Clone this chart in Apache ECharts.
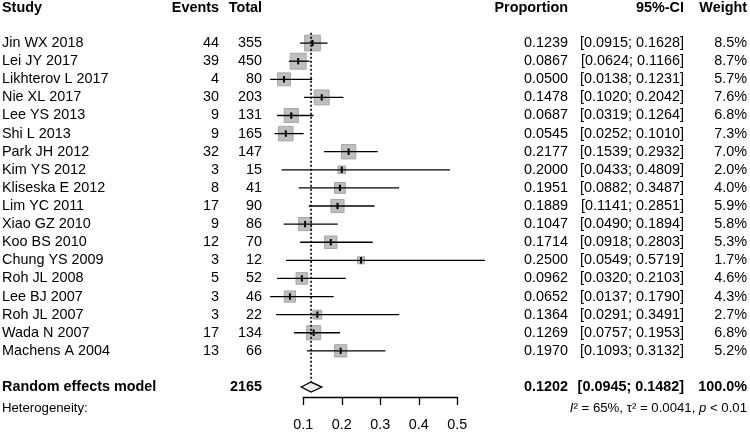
<!DOCTYPE html>
<html><head><meta charset="utf-8">
<script src="https://cdn.jsdelivr.net/npm/echarts@6/dist/echarts.min.js"></script>
<style>html,body{margin:0;padding:0;background:#fff}#c{width:750px;height:432px}</style>
</head><body><div id="c"></div>
<script>
// ---- data ----
const studies = ['Jin WX 2018','Lei JY 2017','Likhterov L 2017','Nie XL 2017','Lee YS 2013','Shi L 2013','Park JH 2012','Kim YS 2012','Kliseska E 2012','Lim YC 2011','Xiao GZ 2010','Koo BS 2010','Chung YS 2009','Roh JL 2008','Lee BJ 2007','Roh JL 2007','Wada N 2007','Machens A 2004'];
const events = [44,39,4,30,9,9,32,3,8,17,9,12,3,5,3,3,17,13];
const totals = [355,450,80,203,131,165,147,15,41,90,86,70,12,52,46,22,134,66];
const proportion = [0.1239,0.0867,0.0500,0.1478,0.0687,0.0545,0.2177,0.2000,0.1951,0.1889,0.1047,0.1714,0.2500,0.0962,0.0652,0.1364,0.1269,0.1970];
const ciLower = [0.0915,0.0624,0.0138,0.1020,0.0319,0.0252,0.1539,0.0433,0.0882,0.1141,0.0490,0.0918,0.0549,0.0320,0.0137,0.0291,0.0757,0.1093];
const ciUpper = [0.1628,0.1166,0.1231,0.2042,0.1264,0.1010,0.2932,0.4809,0.3487,0.2851,0.1894,0.2803,0.5719,0.2103,0.1790,0.3491,0.1953,0.3132];
const weights = [8.5,8.7,5.7,7.6,6.8,7.3,7.0,2.0,4.0,5.9,5.8,5.3,1.7,4.6,4.3,2.7,6.8,5.2];
const pooledLabel = 'Random effects model';
const pooledTotal = 2165;
const pooledEstimate = [0.1202, 0.0945, 0.1482]; // estimate, lower, upper
const pooledWeight = 100.0;
const heterogeneity = ['65%', '0.0041', '0.01']; // I^2, tau^2, p
const xTicks = [0.1, 0.2, 0.3, 0.4, 0.5];
const headers = ['Study','Events','Total','Proportion','95%-CI','Weight'];

// ---- layout ----
const FONT = "'Liberation Sans', Arial, sans-serif";
const FS = 14.4;
const colX = {study: 2, events: 219, total: 262, prop: 568, ci: 684, weight: 747};
const headerRow = -1.93, pooledRow = 19, hetRow = 20.2;

const chart = echarts.init(document.getElementById('c'), null, {renderer: 'canvas'});
const f4 = v => v.toFixed(4);

function txt(x, y, s, align, bold, size) {
  return {type: 'text', style: {x: x, y: y, text: s, align: align, verticalAlign: 'middle',
    font: (bold ? 'bold ' : '') + (size || FS) + 'px ' + FONT, fill: '#000'}};
}
function rowTexts(y, cells, bold) {
  return [
    txt(colX.study, y, cells[0], 'left', bold),
    txt(colX.events, y, cells[1], 'right', bold),
    txt(colX.total, y, cells[2], 'right', bold),
    txt(colX.prop, y, cells[3], 'right', bold),
    txt(colX.ci, y, cells[4], 'right', bold),
    txt(colX.weight, y, cells[5], 'right', bold)
  ];
}

const option = {
  animation: false,
  backgroundColor: '#fff',
  grid: {left: 303.3, right: 292.7, top: 6.9, bottom: 35},
  xAxis: {
    type: 'value', min: 0.1, max: 0.5, interval: 0.1,
    splitLine: {show: false},
    axisLine: {show: true, onZero: false, lineStyle: {color: '#000', width: 1.3}},
    axisTick: {show: true, length: 8, lineStyle: {color: '#000', width: 1.3}},
    axisLabel: {color: '#000', fontFamily: FONT, fontSize: FS, margin: 21,
      formatter: v => { const t = xTicks.find(k => Math.abs(k - v) < 1e-9); return t === undefined ? '' : String(t); }}
  },
  yAxis: {type: 'value', min: -2, max: 19.55, inverse: true, show: false},
  series: [
    { // dotted line at pooled estimate
      type: 'line', silent: true, symbol: 'none',
      data: [[pooledEstimate[0], -0.57], [pooledEstimate[0], 18.7]],
      lineStyle: {color: '#000', width: 1.6, type: [2, 2]}
    },
    { // study squares and CIs
      type: 'custom', clip: false,
      data: studies.map((s, i) => [i, proportion[i], ciLower[i], ciUpper[i], weights[i]]),
      renderItem: function (params, api) {
        const r = api.value(0);
        const c = api.coord([api.value(1), r]);
        const lo = api.coord([api.value(2), r]);
        const hi = api.coord([api.value(3), r]);
        const sz = 5.4 * Math.sqrt(api.value(4));
        return {type: 'group', children: [
          {type: 'rect', shape: {x: c[0] - sz / 2, y: c[1] - sz / 2, width: sz, height: sz},
            style: {fill: '#bfbfbf', stroke: '#a6a6a6', lineWidth: 1}},
          {type: 'line', shape: {x1: lo[0], y1: c[1], x2: hi[0], y2: c[1]},
            style: {stroke: '#000', lineWidth: 1.3}},
          {type: 'line', shape: {x1: c[0], y1: c[1] - 3.2, x2: c[0], y2: c[1] + 3.2},
            style: {stroke: '#000', lineWidth: 2}}
        ]};
      }
    },
    { // pooled diamond
      type: 'custom', clip: false,
      data: [[pooledRow, pooledEstimate[0], pooledEstimate[1], pooledEstimate[2]]],
      renderItem: function (params, api) {
        const r = api.value(0);
        const c = api.coord([api.value(1), r]);
        const lo = api.coord([api.value(2), r]);
        const hi = api.coord([api.value(3), r]);
        const h = 5;
        return {type: 'polygon', shape: {points: [[lo[0], c[1]], [c[0], c[1] - h], [hi[0], c[1]], [c[0], c[1] + h]]},
          style: {fill: '#ececec', stroke: '#000', lineWidth: 1.3}};
      }
    },
    { // study text rows
      type: 'custom', clip: false, silent: true,
      data: studies.map((s, i) => [i]),
      renderItem: function (params, api) {
        const i = api.value(0);
        const y = api.coord([0.3, i])[1];
        return {type: 'group', children: rowTexts(y, [studies[i], String(events[i]), String(totals[i]),
          f4(proportion[i]), '[' + f4(ciLower[i]) + '; ' + f4(ciUpper[i]) + ']', weights[i].toFixed(1) + '%'], false)};
      }
    },
    { // header, pooled and heterogeneity rows
      type: 'custom', clip: false, silent: true,
      data: [[0]],
      renderItem: function (params, api) {
        const yh = api.coord([0.3, headerRow])[1];
        const yp = api.coord([0.3, pooledRow])[1];
        const yt = api.coord([0.3, hetRow])[1];
        const kids = rowTexts(yh, headers, true)
          .concat(rowTexts(yp, [pooledLabel, '', String(pooledTotal), f4(pooledEstimate[0]),
            '[' + f4(pooledEstimate[1]) + '; ' + f4(pooledEstimate[2]) + ']', pooledWeight.toFixed(1) + '%'], true));
        kids.push(txt(colX.study, yt, 'Heterogeneity:', 'left', false, 13.2));
        kids.push({type: 'text', style: {x: colX.weight, y: yt, align: 'right', verticalAlign: 'middle',
          text: '{i|I}² = ' + heterogeneity[0] + ', τ² = ' + heterogeneity[1] + ', {i|p} < ' + heterogeneity[2],
          font: '13.2px ' + FONT, fill: '#000',
          rich: {i: {fontStyle: 'italic', fontFamily: FONT, fontSize: 13.2, fill: '#000'}}}});
        return {type: 'group', children: kids};
      }
    }
  ]
};
chart.setOption(option);
</script>
</body></html>
